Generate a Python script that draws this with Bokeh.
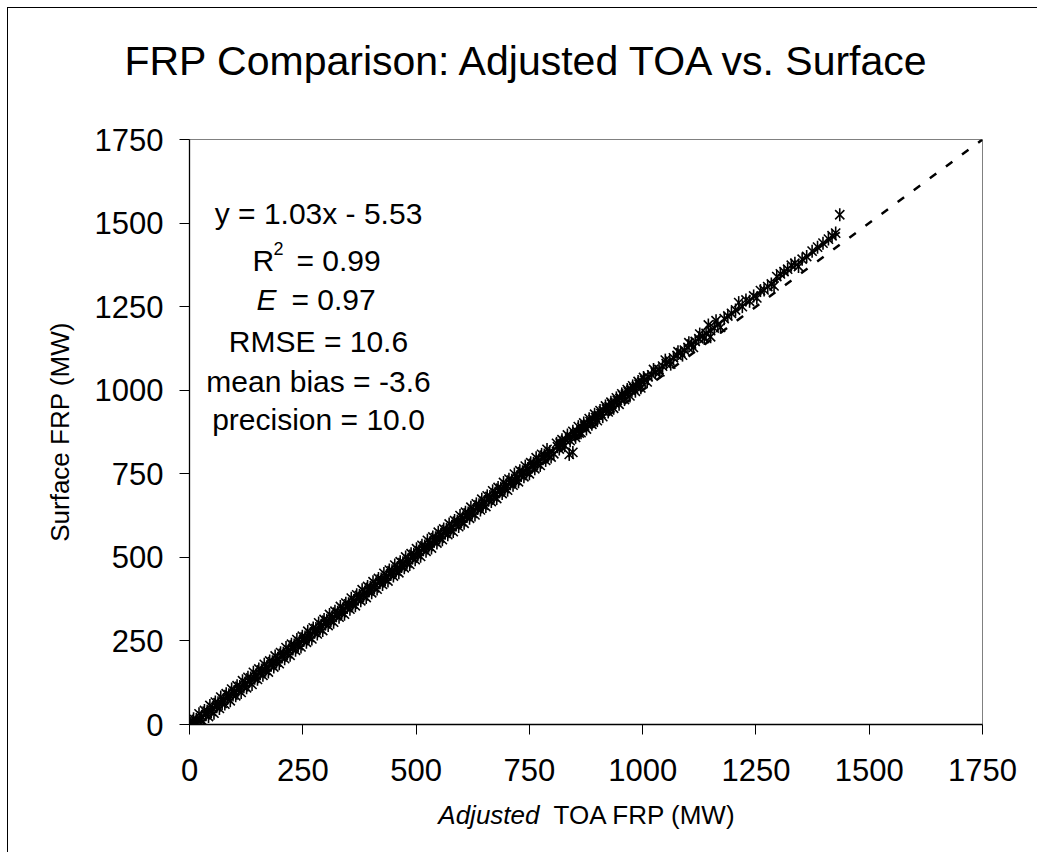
from bokeh.plotting import figure
from bokeh.models import Label, Range1d, FixedTicker
from bokeh.embed import file_html
from bokeh.resources import INLINE
import math

# ---------------- data ----------------
# dense band 0-800 (four staggered rows of overlapping stars)
toa_row_a = [6, 18, 30, 42, 54, 66, 78, 90, 102, 114, 126, 138, 150, 162, 174, 186, 198, 210, 222, 234,
             246, 258, 270, 282, 294, 306, 318, 330, 342, 354, 366, 378, 390, 402, 414, 426, 438, 450,
             462, 474, 486, 498, 510, 522, 534, 546, 558, 570, 582, 594, 606, 618, 630, 642, 654, 666,
             678, 690, 702, 714, 726, 738, 750, 762, 774, 786, 798]
sfc_row_a = [0, 2, 9, 24, 34, 48, 61, 71, 86, 96, 110, 120, 135, 147, 157, 172, 182, 197, 207, 222,
             232, 246, 256, 271, 281, 296, 306, 321, 330, 345, 355, 370, 380, 394, 405, 419, 429, 444,
             454, 469, 479, 493, 503, 518, 528, 543, 553, 568, 577, 592, 602, 617, 627, 642, 652, 667,
             676, 691, 701, 716, 726, 741, 750, 765, 775, 790, 800]
toa_row_b = [12, 24, 36, 48, 60, 72, 84, 96, 108, 120, 132, 144, 156, 168, 180, 192, 204, 216, 228, 240,
             252, 264, 276, 288, 300, 312, 324, 336, 348, 360, 372, 384, 396, 408, 420, 432, 444, 456,
             468, 480, 492, 504, 516, 528, 540, 552, 564, 576, 588, 600, 612, 624, 636, 648, 660, 672,
             684, 696, 708, 720, 732, 744, 756, 768, 780, 792]
sfc_row_b = [4, 14, 29, 39, 53, 63, 78, 88, 103, 113, 128, 138, 152, 162, 177, 187, 202, 212, 226, 236,
             251, 261, 276, 286, 301, 311, 325, 335, 350, 360, 375, 385, 399, 409, 424, 434, 449, 459,
             473, 483, 498, 508, 523, 533, 548, 558, 572, 582, 597, 607, 622, 632, 646, 656, 671, 681,
             696, 706, 720, 730, 745, 755, 770, 780, 795, 805]
toa_row_c = [3, 15, 27, 39, 51, 63, 75, 87, 99, 111, 123, 135, 147, 159, 171, 183, 195, 207, 219, 231,
             243, 255, 267, 279, 291, 303, 315, 327, 339, 351, 363, 375, 387, 399, 411, 423, 435, 447,
             459, 471, 483, 495, 507, 519, 531, 543, 555, 567, 579, 591, 603, 615, 627, 639, 651, 663,
             675, 687, 699, 711, 723, 735, 747, 759, 771, 783, 795]
sfc_row_c = [3, 15, 25, 40, 50, 65, 75, 89, 99, 114, 124, 139, 149, 163, 173, 188, 198, 213, 223, 238,
             248, 262, 272, 287, 297, 312, 322, 336, 346, 361, 371, 386, 396, 410, 420, 435, 445, 460,
             470, 484, 494, 509, 519, 534, 544, 559, 569, 583, 593, 608, 618, 633, 643, 657, 667, 682,
             692, 707, 717, 731, 741, 756, 766, 781, 791, 806, 816]
toa_row_d = [9, 21, 33, 45, 57, 69, 81, 93, 105, 117, 129, 141, 153, 165, 177, 189, 201, 213, 225, 237,
             249, 261, 273, 285, 297, 309, 321, 333, 345, 357, 369, 381, 393, 405, 417, 429, 441, 453,
             465, 477, 489, 501, 513, 525, 537, 549, 561, 573, 585, 597, 609, 621, 633, 645, 657, 669,
             681, 693, 705, 717, 729, 741, 753, 765, 777, 789]
sfc_row_d = [17, 32, 42, 57, 67, 82, 92, 106, 116, 131, 141, 156, 166, 180, 190, 205, 215, 230, 240, 254,
             264, 279, 289, 304, 314, 329, 339, 353, 363, 378, 388, 403, 413, 427, 437, 452, 462, 477,
             487, 501, 511, 526, 536, 551, 561, 575, 585, 600, 610, 625, 635, 650, 660, 674, 684, 699,
             709, 724, 734, 749, 759, 773, 783, 798, 808, 823]
# 800-1450: sparser, clumpier
toa_upper = [804, 816, 828, 840, 852, 864, 876, 888, 900, 912, 924, 936, 948, 960, 972, 984, 996,
             810, 822, 834, 846, 858, 870, 882, 894, 906, 918, 930, 942, 954, 966, 978, 990, 1002,
             812, 818, 824, 830, 838, 842, 846, 850, 855, 860, 866, 872, 878, 884, 890, 896, 902, 908,
             913, 920, 926, 932, 938, 944, 950, 956, 962, 968, 974, 980, 986, 992, 998, 1004, 1012,
             1020, 1028, 1036, 1044, 1052, 1060, 1068, 1076, 1084, 1092, 1100, 1108, 1116, 1124, 1132,
             1140, 1145, 1150, 1158, 1162, 1166, 1172, 1180, 1188, 1196, 1205, 1212, 1220, 1228, 1236,
             1245, 1252, 1260, 1268, 1276, 1284, 1290, 1296, 1304, 1312, 1320, 1328, 1336, 1344, 1352,
             1362, 1374, 1386, 1398, 1410, 1418, 1426, 1435,
             1010, 1024, 1038, 1050, 1062, 1078, 1088, 1102, 1112, 1126, 1136, 1150]
sfc_upper = [810, 824, 834, 849, 859, 873, 884, 898, 909, 921, 935, 946, 958, 972, 983, 997, 1007,
             841, 852, 866, 877, 891, 902, 915, 928, 939, 953, 964, 977, 989, 1002, 1013, 1026, 1038,
             831, 842, 840, 851, 808, 860, 814, 868, 876, 872, 889, 893, 897, 906, 912, 918, 924, 930,
             938, 944, 950, 958, 962, 970, 975, 984, 988, 995, 1000, 1006, 1012, 1018, 1024, 1030, 1040,
             1046, 1054, 1062, 1072, 1080, 1088, 1097, 1104, 1112, 1120, 1128, 1138, 1146, 1154, 1162,
             1170, 1195, 1178, 1186, 1208, 1196, 1188, 1214, 1222, 1230, 1240, 1262, 1250, 1270, 1266,
             1282, 1276, 1298, 1300, 1310, 1318, 1312, 1340, 1348, 1355, 1362, 1374, 1380, 1370, 1392,
             1400, 1416, 1428, 1440, 1452, 1462, 1470, 1525,
             1025, 1062, 1055, 1090, 1078, 1115, 1105, 1142, 1128, 1168, 1155, 1160]

toa_frp = toa_row_a + toa_row_b + toa_row_c + toa_row_d + toa_upper
surface_frp = sfc_row_a + sfc_row_b + sfc_row_c + sfc_row_d + sfc_upper

origin_x = [0]
origin_y = [0]
one_to_one = [0, 1750]
fit_slope = 1.03
fit_intercept = -5.53
axis_ticks = [0, 250, 500, 750, 1000, 1250, 1500, 1750]

title_text = "FRP Comparison: Adjusted TOA vs. Surface"
x_label_italic = "Adjusted"
x_label_rest = "TOA FRP (MW)"
y_label = "Surface FRP (MW)"
eq_text = "y = 1.03x - 5.53"
r2_value = "= 0.99"
e_value = "= 0.97"
rmse_text = "RMSE = 10.6"
bias_text = "mean bias = -3.6"
precision_text = "precision = 10.0"

FONT = "Liberation Sans"
DY = -11  # baseline correction for canvas-positioned labels

# chart-area border (top and left edges, 7px in) painted behind a transparent canvas border
chart_border_css = ("linear-gradient(#000, #000) 7px 7px / 1px 100% no-repeat, "
                    "linear-gradient(#000, #000) 7px 7px / 100% 1px no-repeat, #ffffff")

# ---------------- figure ----------------
p = figure(width=1037, height=852, output_backend="svg", toolbar_location=None,
           title=None,
           x_range=Range1d(0, 1750), y_range=Range1d(0, 1750),
           min_border_left=189, min_border_right=55,
           min_border_top=139, min_border_bottom=128,
           styles={"background": chart_border_css})
p.background_fill_color = "white"
p.border_fill_color = None
p.outline_line_color = "#808080"
p.outline_line_width = 1
p.xgrid.visible = False
p.ygrid.visible = False

for ax in (p.xaxis[0], p.yaxis[0]):
    ax.ticker = FixedTicker(ticks=axis_ticks)
    ax.major_tick_in = 0
    ax.major_tick_out = 10
    ax.minor_tick_line_color = None
    ax.axis_line_color = "black"
    ax.axis_line_width = 1.3
    ax.major_tick_line_color = "black"
    ax.major_tick_line_width = 1
    ax.major_label_text_font = FONT
    ax.major_label_text_font_size = "31px"
    ax.major_label_text_color = "black"

p.xaxis.major_label_standoff = 24
p.yaxis.major_label_standoff = 16
p.yaxis.axis_label = y_label
p.yaxis.axis_label_text_font = FONT
p.yaxis.axis_label_text_font_size = "26px"
p.yaxis.axis_label_text_font_style = "normal"
p.yaxis.axis_label_text_color = "black"
p.yaxis.axis_label_standoff = 17

# origin marker (drawn below)
p.scatter(origin_x, origin_y, marker="diamond", size=11, fill_color="#000080", line_color="#000080")

# star markers: X plus vertical bar
p.scatter(toa_frp, surface_frp, marker="x", size=13, line_color="black", line_width=1.6)
p.scatter(toa_frp, surface_frp, marker="dash", angle=math.pi / 2, size=13, line_color="black", line_width=1.6)

# 1:1 line
p.line(one_to_one, one_to_one, line_color="black", line_width=2.5, line_dash="8 12")

# regression line
fx = [min(toa_frp), max(toa_frp)]
fy = [fit_slope * v + fit_intercept for v in fx]
p.line(fx, fy, line_color="black", line_width=2)


def lab(x, y, text, size, align="left", style="normal", place=None):
    l = Label(x=x, y=y + DY, x_units="canvas", y_units="canvas", text=text,
              text_font=FONT, text_font_size=size, text_align=align,
              text_baseline="alphabetic", text_font_style=style, text_color="black")
    if place is None:
        p.add_layout(l)
    else:
        p.add_layout(l, place)


lab(528, 71, title_text, "41px", "center", place="above")
lab(318, 224, eq_text, "30px", "center")
lab(252, 271, "R", "30px")
lab(273, 259, "2", "18px")
lab(296, 271, r2_value, "30px")
lab(256, 310, "E", "30px", style="italic")
lab(291, 310, e_value, "30px")
lab(318, 352, rmse_text, "30px", "center")
lab(318, 392, bias_text, "30px", "center")
lab(318, 430, precision_text, "30px", "center")
lab(539, 825, x_label_italic, "26px", "right", "italic", place="below")
lab(553, 825, x_label_rest, "26px", "left", place="below")

open("out.html", "w").write(file_html(p, INLINE))
